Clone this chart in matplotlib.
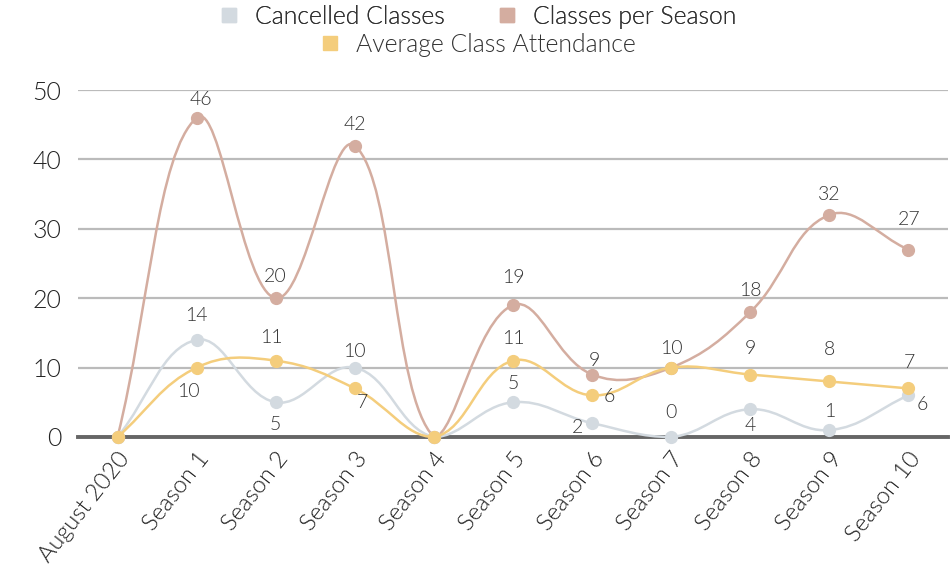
import numpy as np
import matplotlib
matplotlib.use("Agg")
from matplotlib import pyplot as plt
from matplotlib.path import Path
from matplotlib.patches import PathPatch
from matplotlib.lines import Line2D

## Data ##
categories = ["August 2020", "Season 1", "Season 2", "Season 3", "Season 4", "Season 5",
              "Season 6", "Season 7", "Season 8", "Season 9", "Season 10"]
cancelled = [0, 14, 5, 10, 0, 5, 2, 0, 4, 1, 6]
per_season = [0, 46, 20, 42, 0, 19, 9, 10, 18, 32, 27]
attendance = [0, 10, 11, 7, 0, 11, 6, 10, 9, 8, 7]

# label offsets in pixels (None = label hidden)
off_cancelled = [None, (0, 24), (0, -22), (0, 16), None, (0, 19), (-15, -4), (0, 24), (0, -16), (0, 19), (14, -9)]
off_season = [None, (4, 18), (0, 22), (0, 21), None, (0, 28), (2, 14), None, (0, 22), (0, 20), (1, 30)]
off_attend = [None, (-8, -24), (-4, 23), (8, -14), None, (0, 22), (17, -1), (0, 19), (0, 26), (0, 32), (1, 26)]

c_cancel = "#d3dae0"
c_season = "#d4ada0"
c_attend = "#f4cd7c"

plt.rcParams['font.family'] = ['Lato', 'DejaVu Sans']
plt.rcParams['font.weight'] = 300

fig = plt.figure(figsize=(9.53, 5.71), dpi=100)
ax = fig.add_axes([78/953, 1 - 437/571, 870/953, 347/571])
x = np.arange(len(categories))
ax.set_xlim(-0.5, len(categories) - 0.5)
ax.set_ylim(0, 50)


def spline_path(xs, ys, t=0.4):
    # chart.js style cubic spline, done in pixel space
    pts = ax.transData.transform(np.column_stack([xs, ys]))
    x0, y0, x1, y1 = ax.bbox.extents
    n = len(pts)
    cp_prev = np.zeros_like(pts)
    cp_next = np.zeros_like(pts)
    for i in range(n):
        prev = pts[max(i - 1, 0)]
        cur = pts[i]
        nxt = pts[min(i + 1, n - 1)]
        d01 = np.hypot(*(cur - prev))
        d12 = np.hypot(*(nxt - cur))
        tot = d01 + d12
        s01 = d01 / tot if tot else 0
        s12 = d12 / tot if tot else 0
        cp_prev[i] = cur - t * s01 * (nxt - prev)
        cp_next[i] = cur + t * s12 * (nxt - prev)
    for cp in (cp_prev, cp_next):
        cp[:, 0] = np.clip(cp[:, 0], x0, x1)
        cp[:, 1] = np.clip(cp[:, 1], y0, y1)
    verts = [pts[0]]
    codes = [Path.MOVETO]
    for i in range(n - 1):
        verts += [cp_next[i], cp_prev[i + 1], pts[i + 1]]
        codes += [Path.CURVE4] * 3
    verts = ax.transData.inverted().transform(np.array(verts))
    return Path(verts, codes)


series = [
    (per_season, c_season, off_season, 3),
    (cancelled, c_cancel, off_cancelled, 4),
    (attendance, c_attend, off_attend, 5),
]

for vals, col, offs, z in series:
    ax.add_patch(PathPatch(spline_path(x, vals), facecolor='none', edgecolor=col,
                           lw=1.8, zorder=z, clip_on=False))
    ax.plot(x, vals, 'o', color=col, ms=8.5, zorder=z + 0.5, clip_on=False)
    for xi, v, o in zip(x, vals, offs):
        if o is None:
            continue
        ax.annotate(str(v), (xi, v), xytext=o, textcoords='offset pixels',
                    ha='center', va='center', fontsize=14, color='#333333',
                    fontweight=300, zorder=10)

# grid
for s in ax.spines.values():
    s.set_visible(False)
ax.set_yticks([0, 10, 20, 30, 40, 50])
ax.yaxis.grid(True, color='#bbbbbb', lw=1.6)
ax.set_axisbelow(True)
ax.axhline(0, color='#666666', lw=2.8, zorder=2, clip_on=False)
ax.tick_params(axis='y', length=0, pad=12, labelsize=18, labelcolor='#222222')
ax.set_xticks(x)
ax.set_xticklabels(categories, rotation=52, ha='right', rotation_mode='anchor')
ax.tick_params(axis='x', length=0, pad=8, labelsize=17, labelcolor='#222222')

# legend
def handle(col):
    return Line2D([], [], ls='none', marker='s', ms=10, color=col)

leg1 = fig.legend([handle(c_cancel), handle(c_season)], ["Cancelled Classes", "Classes per Season"],
                  loc='center', bbox_to_anchor=(0.5, 0.970), ncol=2, frameon=False,
                  fontsize=17.8, handlelength=1, handletextpad=0.55, columnspacing=2.0,
                  labelcolor='#333333', borderpad=0)
leg2 = fig.legend([handle(c_attend)], ["Average Class Attendance"],
                  loc='center', bbox_to_anchor=(0.5, 0.921), frameon=False,
                  fontsize=17.8, handlelength=1, handletextpad=0.55,
                  labelcolor='#333333', borderpad=0)
fig.add_artist(leg1)

fig.savefig("out.png", dpi=100)
